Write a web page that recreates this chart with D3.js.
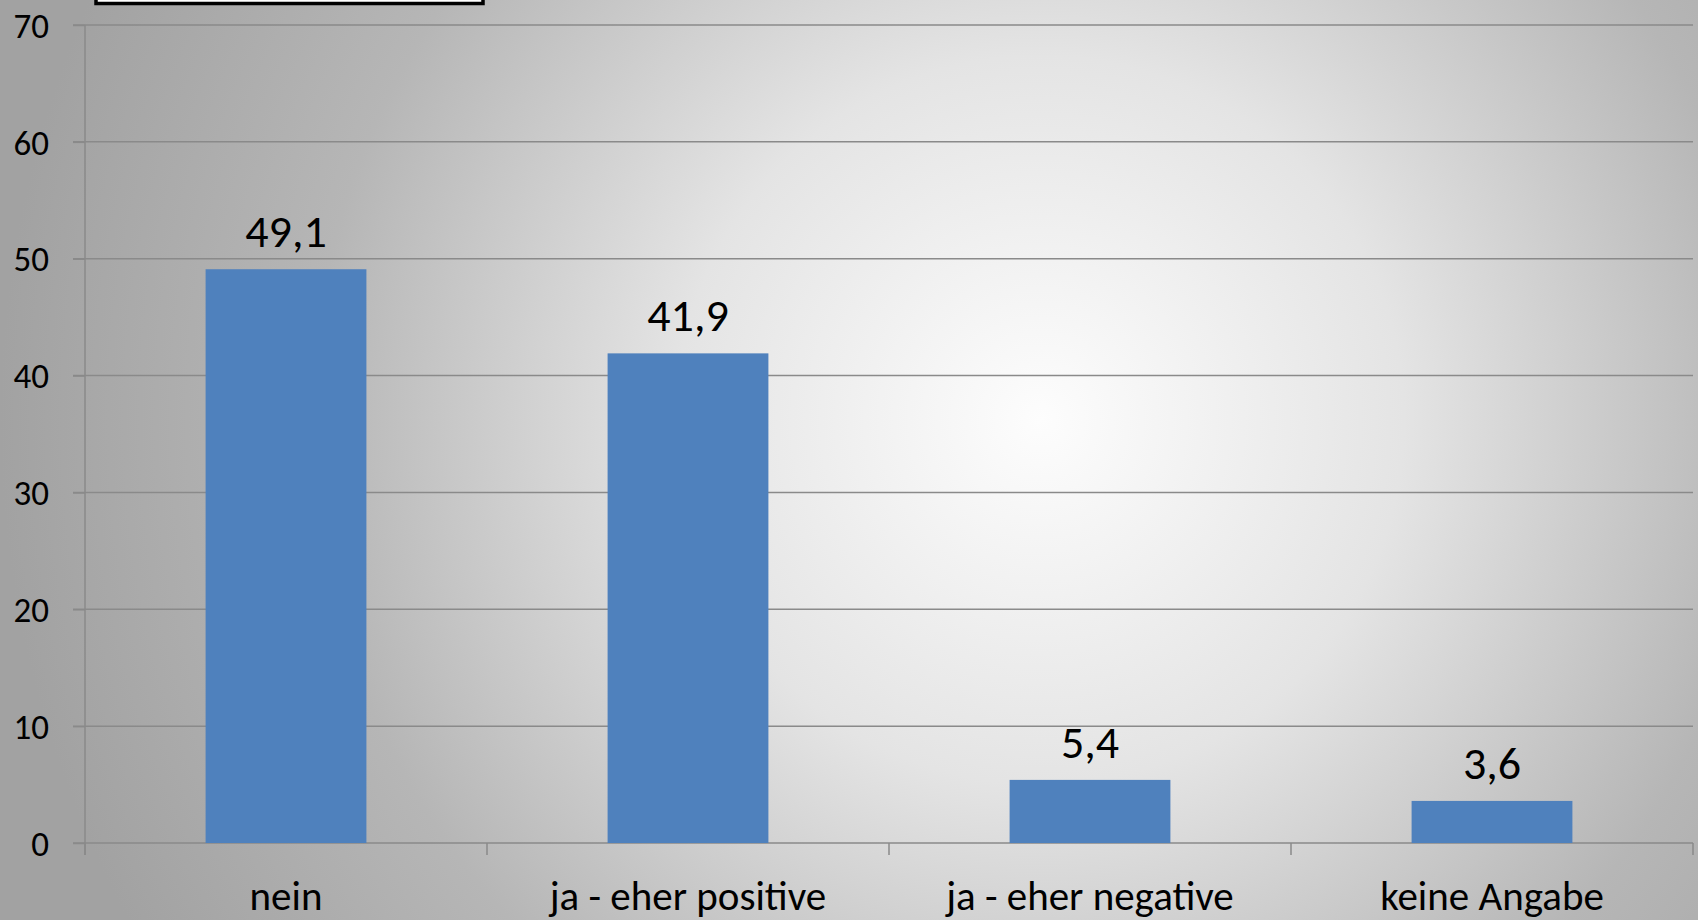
<!DOCTYPE html>
<html>
<head>
<meta charset="utf-8">
<script src="https://cdn.jsdelivr.net/npm/d3@7"></script>
<style>
html,body{margin:0;padding:0;overflow:hidden;}
svg{display:block;}
text{font-family:Carlito, Lato, "Open Sans", sans-serif;fill:#000;}
</style>
</head>
<body>
<svg id="chart" width="1698" height="920"></svg>
<script>
const categories = ["nein", "ja - eher positive", "ja - eher negative", "keine Angabe"];
const values = [49.1, 41.9, 5.4, 3.6];
const valueLabels = ["49,1", "41,9", "5,4", "3,6"];
const yTicks = [0, 10, 20, 30, 40, 50, 60, 70];

const W = 1698, H = 920;
const svg = d3.select("#chart");
const defs = svg.append("defs");
const grad = defs.append("radialGradient").attr("id", "bg")
  .attr("gradientUnits", "userSpaceOnUse")
  .attr("cx", 1040).attr("cy", 420).attr("r", 1040);
grad.append("stop").attr("offset", 0).attr("stop-color", "#fdfdfd");
grad.append("stop").attr("offset", 0.35).attr("stop-color", "#e4e4e4");
grad.append("stop").attr("offset", 0.7).attr("stop-color", "#b6b6b6");
grad.append("stop").attr("offset", 1).attr("stop-color", "#a2a2a2");
svg.append("rect").attr("width", W).attr("height", H).attr("fill", "url(#bg)");

const x0 = 85, x1 = 1693, yTop = 25, yBot = 843;
const x = d3.scaleBand().domain(categories).range([x0, x1]).paddingInner(0.6).paddingOuter(0.3);
const y = d3.scaleLinear().domain([0, 70]).range([yBot, yTop]);

// gridlines
svg.append("g").selectAll("line").data(yTicks).join("line")
  .attr("x1", x0 - 12).attr("x2", x1)
  .attr("y1", d => y(d)).attr("y2", d => y(d))
  .attr("stroke", "#8a8a8a").attr("stroke-width", 1.5);

// y axis
const yAxis = d3.axisLeft(y).tickValues(yTicks).tickSize(12).tickPadding(24);
const gy = svg.append("g").attr("transform", `translate(${x0},0)`).call(yAxis);
gy.select(".domain").attr("stroke", "#8a8a8a").attr("stroke-width", 1.5).attr("d", `M0,${yTop}V${yBot + 12}`);
gy.selectAll(".tick line").attr("stroke", "#8a8a8a").attr("stroke-width", 1.5);
gy.selectAll(".tick text").style("font-size", "35px").attr("fill", "#000").attr("dy", "0.35em");

// x axis boundaries
const bounds = d3.range(categories.length + 1).map(i => x0 + i * (x1 - x0) / categories.length);
svg.append("g").selectAll("line").data(bounds).join("line")
  .attr("x1", d => d).attr("x2", d => d)
  .attr("y1", yBot).attr("y2", yBot + 12)
  .attr("stroke", "#8a8a8a").attr("stroke-width", 1.5);

// bars
svg.append("g").selectAll("rect").data(values).join("rect")
  .attr("x", (d, i) => x(categories[i]))
  .attr("width", x.bandwidth())
  .attr("y", d => y(d))
  .attr("height", d => y(0) - y(d))
  .attr("fill", "#4f81bd");

// value labels
svg.append("g").selectAll("text").data(values).join("text")
  .attr("x", (d, i) => x(categories[i]) + x.bandwidth() / 2)
  .attr("y", d => y(d) - 22)
  .attr("text-anchor", "middle")
  .style("font-size", "46px")
  .text((d, i) => valueLabels[i]);

// category labels
svg.append("g").selectAll("text").data(categories).join("text")
  .attr("x", d => x(d) + x.bandwidth() / 2)
  .attr("y", 910)
  .attr("text-anchor", "middle")
  .style("font-size", "41px")
  .text(d => d);

// cut-off box at top
svg.append("rect").attr("x", 96).attr("y", -20).attr("width", 387).attr("height", 23.5)
  .attr("fill", "#fff").attr("stroke", "#000").attr("stroke-width", 3.5);
</script>
</body>
</html>
